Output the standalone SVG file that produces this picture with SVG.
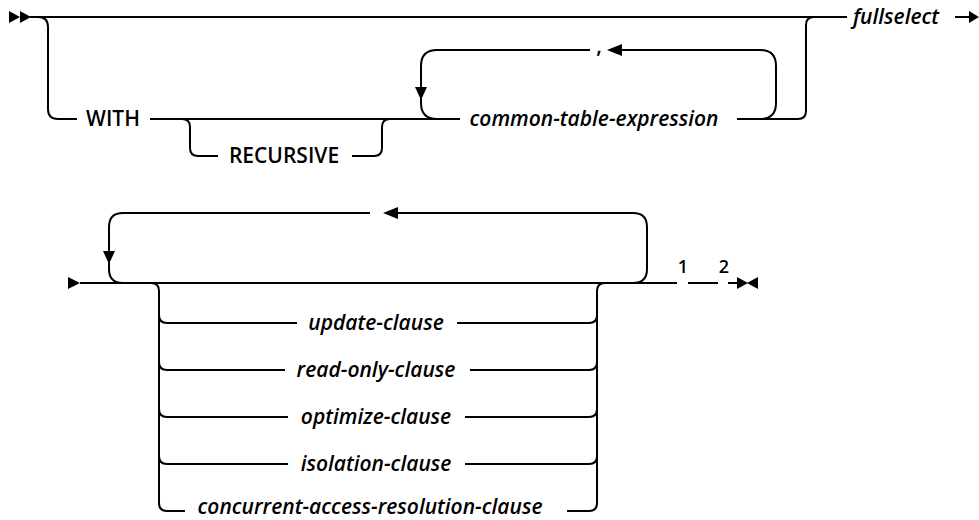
<svg xmlns="http://www.w3.org/2000/svg" width="979" height="520" viewBox="0 0 979 520">
<style>
.ln{fill:none;stroke:#000;stroke-width:2}
.ah{fill:#000;stroke:none}
.t{font-family:"Open Sans","Liberation Sans",sans-serif;font-size:21px;font-weight:600;fill:#000;text-anchor:middle}
.v{font-style:italic}
.n{font-size:18px}
</style>
<rect width="979" height="520" fill="#fff"/>
<g id="connectors">
  <!-- top diagram -->
  <polygon class="ah" points="9,11 20,17 9,23"/>
  <polygon class="ah" points="20,11 31,17 20,23"/>
  <path class="ln" d="M30,17 H847"/>
  <path class="ln" d="M38,17 Q48,17 48,27 V109 Q48,119 58,119 H77"/>
  <path class="ln" d="M150,119 H460"/>
  <path class="ln" d="M182,119 Q190,119 190,127 V148 Q190,156 198,156 H218"/>
  <path class="ln" d="M352,156 H374 Q382,156 382,148 V127 Q382,119 390,119"/>
  <path class="ln" d="M590,50 H437 Q421,50 421,66 V103 Q421,119 437,119"/>
  <polygon class="ah" points="415,87 427,87 421,100"/>
  <path class="ln" d="M620,50 H760 Q776,50 776,66 V103 Q776,119 760,119"/>
  <polygon class="ah" points="607,50 622,44 622,56"/>
  <path class="ln" d="M737,119 H798 Q806,119 806,111 V25 Q806,17 814,17"/>
  <path class="ln" d="M955,17 H972"/>
  <polygon class="ah" points="969,11 979,17 969,23"/>
  <!-- bottom diagram -->
  <polygon class="ah" points="68,277 80,283 68,289"/>
  <path class="ln" d="M80,283 H677"/>
  <path class="ln" d="M123,283 Q109,283 109,269 V227 Q109,213 123,213 H370"/>
  <polygon class="ah" points="103,251 115,251 109,264"/>
  <path class="ln" d="M396,213 H633 Q647,213 647,227 V269 Q647,283 633,283"/>
  <polygon class="ah" points="383,213 398,207 398,219"/>
  <path class="ln" d="M151,283 Q159,283 159,291 V503 Q159,511 167,511 H185"/>
  <path class="ln" d="M159,315 Q159,323 167,323 H297"/>
  <path class="ln" d="M159,362 Q159,370 167,370 H285"/>
  <path class="ln" d="M159,409 Q159,417 167,417 H288"/>
  <path class="ln" d="M159,456 Q159,464 167,464 H288"/>
  <path class="ln" d="M605,283 Q597,283 597,291 V503 Q597,511 589,511 H567"/>
  <path class="ln" d="M457,323 H589 Q597,323 597,315"/>
  <path class="ln" d="M470,370 H589 Q597,370 597,362"/>
  <path class="ln" d="M465,417 H589 Q597,417 597,409"/>
  <path class="ln" d="M465,464 H589 Q597,464 597,456"/>
  <path class="ln" d="M688,283 H718"/>
  <path class="ln" d="M728,283 H740"/>
  <polygon class="ah" points="737,277 748,283 737,289"/>
  <polygon class="ah" points="758,277 747,283 758,289"/>
</g>
<g id="with"><text class="t" x="113" y="126">WITH</text></g>
<g id="recursive"><text class="t" x="284" y="163">RECURSIVE</text></g>
<g id="cte"><text class="t v" x="594" y="126">common-table-expression</text></g>
<g id="comma"><text class="t" x="599" y="53">,</text></g>
<g id="fullselect"><text class="t v" x="896" y="24">fullselect</text></g>
<g id="update"><text class="t v" x="376" y="330">update-clause</text></g>
<g id="readonly"><text class="t v" x="376" y="377">read-only-clause</text></g>
<g id="optimize"><text class="t v" x="376" y="424">optimize-clause</text></g>
<g id="isolation"><text class="t v" x="376" y="471">isolation-clause</text></g>
<g id="concurrent"><text class="t v" x="370" y="514">concurrent-access-resolution-clause</text></g>
<g id="note1"><text class="t n" x="683" y="273">1</text></g>
<g id="note2"><text class="t n" x="724" y="273">2</text></g>
</svg>
